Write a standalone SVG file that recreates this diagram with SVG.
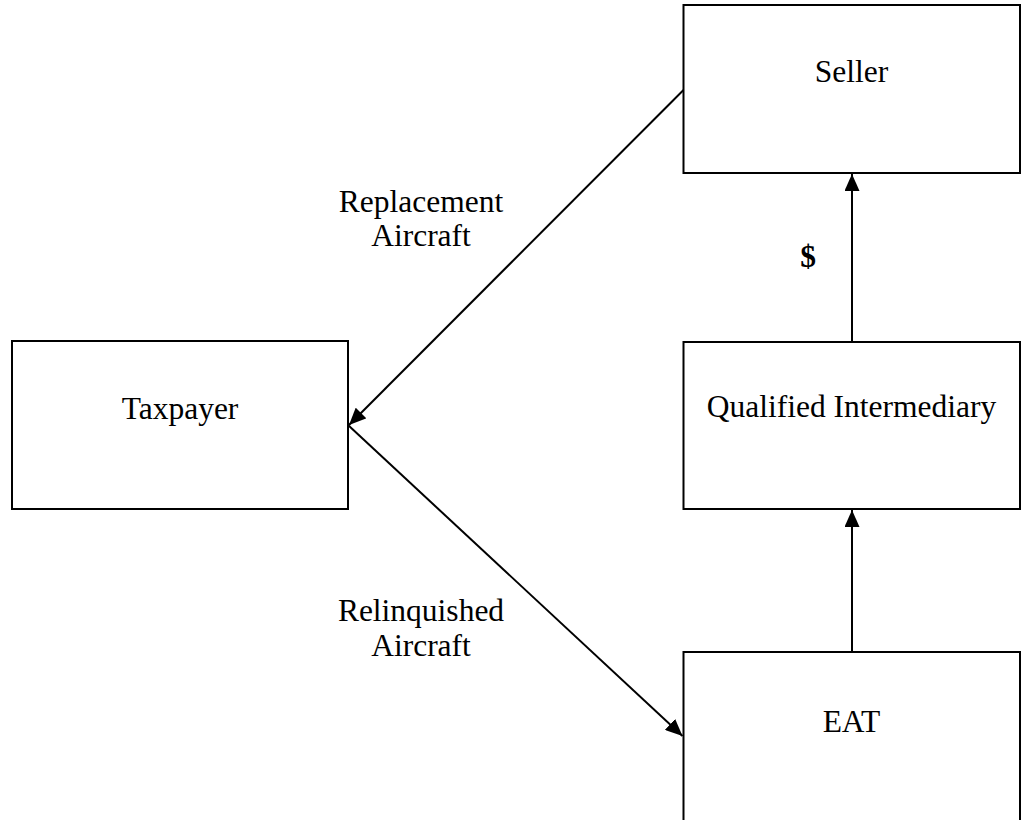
<svg xmlns="http://www.w3.org/2000/svg" width="1022" height="820" viewBox="0 0 1022 820">
<style>
.box{fill:#fff;stroke:#000;stroke-width:2}
.t{font-family:"Liberation Serif","Times New Roman",serif;font-size:31.5px;fill:#000;text-anchor:middle}
.b{font-weight:bold}
.c{stroke:#000;stroke-width:2;fill:none}
</style>
<defs>
<marker id="ah" markerUnits="userSpaceOnUse" markerWidth="18" markerHeight="15" refX="17" refY="7.5" orient="auto">
<path d="M0,0 L17,7.5 L0,15 z" fill="#000"/>
</marker>
</defs>
<rect width="1022" height="820" fill="#fff"/>
<g id="seller">
<rect class="box" x="683.5" y="5" width="336.5" height="168"/>
<text class="t" x="851.5" y="82">Seller</text>
</g>
<g id="taxpayer">
<rect class="box" x="12" y="341" width="336" height="168"/>
<text class="t" x="180" y="419">Taxpayer</text>
</g>
<g id="qi">
<rect class="box" x="683.5" y="342" width="336.5" height="167"/>
<text class="t" x="851.5" y="417">Qualified Intermediary</text>
</g>
<g id="eat">
<rect class="box" x="683.5" y="652" width="336.5" height="180"/>
<text class="t" x="851.5" y="732">EAT</text>
</g>
<g id="connectors">
<line class="c" x1="683.5" y1="90" x2="349" y2="425" marker-end="url(#ah)"/>
<line class="c" x1="348" y1="425" x2="682.5" y2="736" marker-end="url(#ah)"/>
<line class="c" x1="852" y1="342" x2="852" y2="174" marker-end="url(#ah)"/>
<line class="c" x1="852" y1="652" x2="852" y2="510" marker-end="url(#ah)"/>
</g>
<g id="labels">
<text class="t" x="421" y="212">Replacement</text>
<text class="t" x="421" y="246">Aircraft</text>
<text class="t" x="421" y="621">Relinquished</text>
<text class="t" x="421" y="656">Aircraft</text>
<text class="t b" x="808" y="267">$</text>
</g>
</svg>
